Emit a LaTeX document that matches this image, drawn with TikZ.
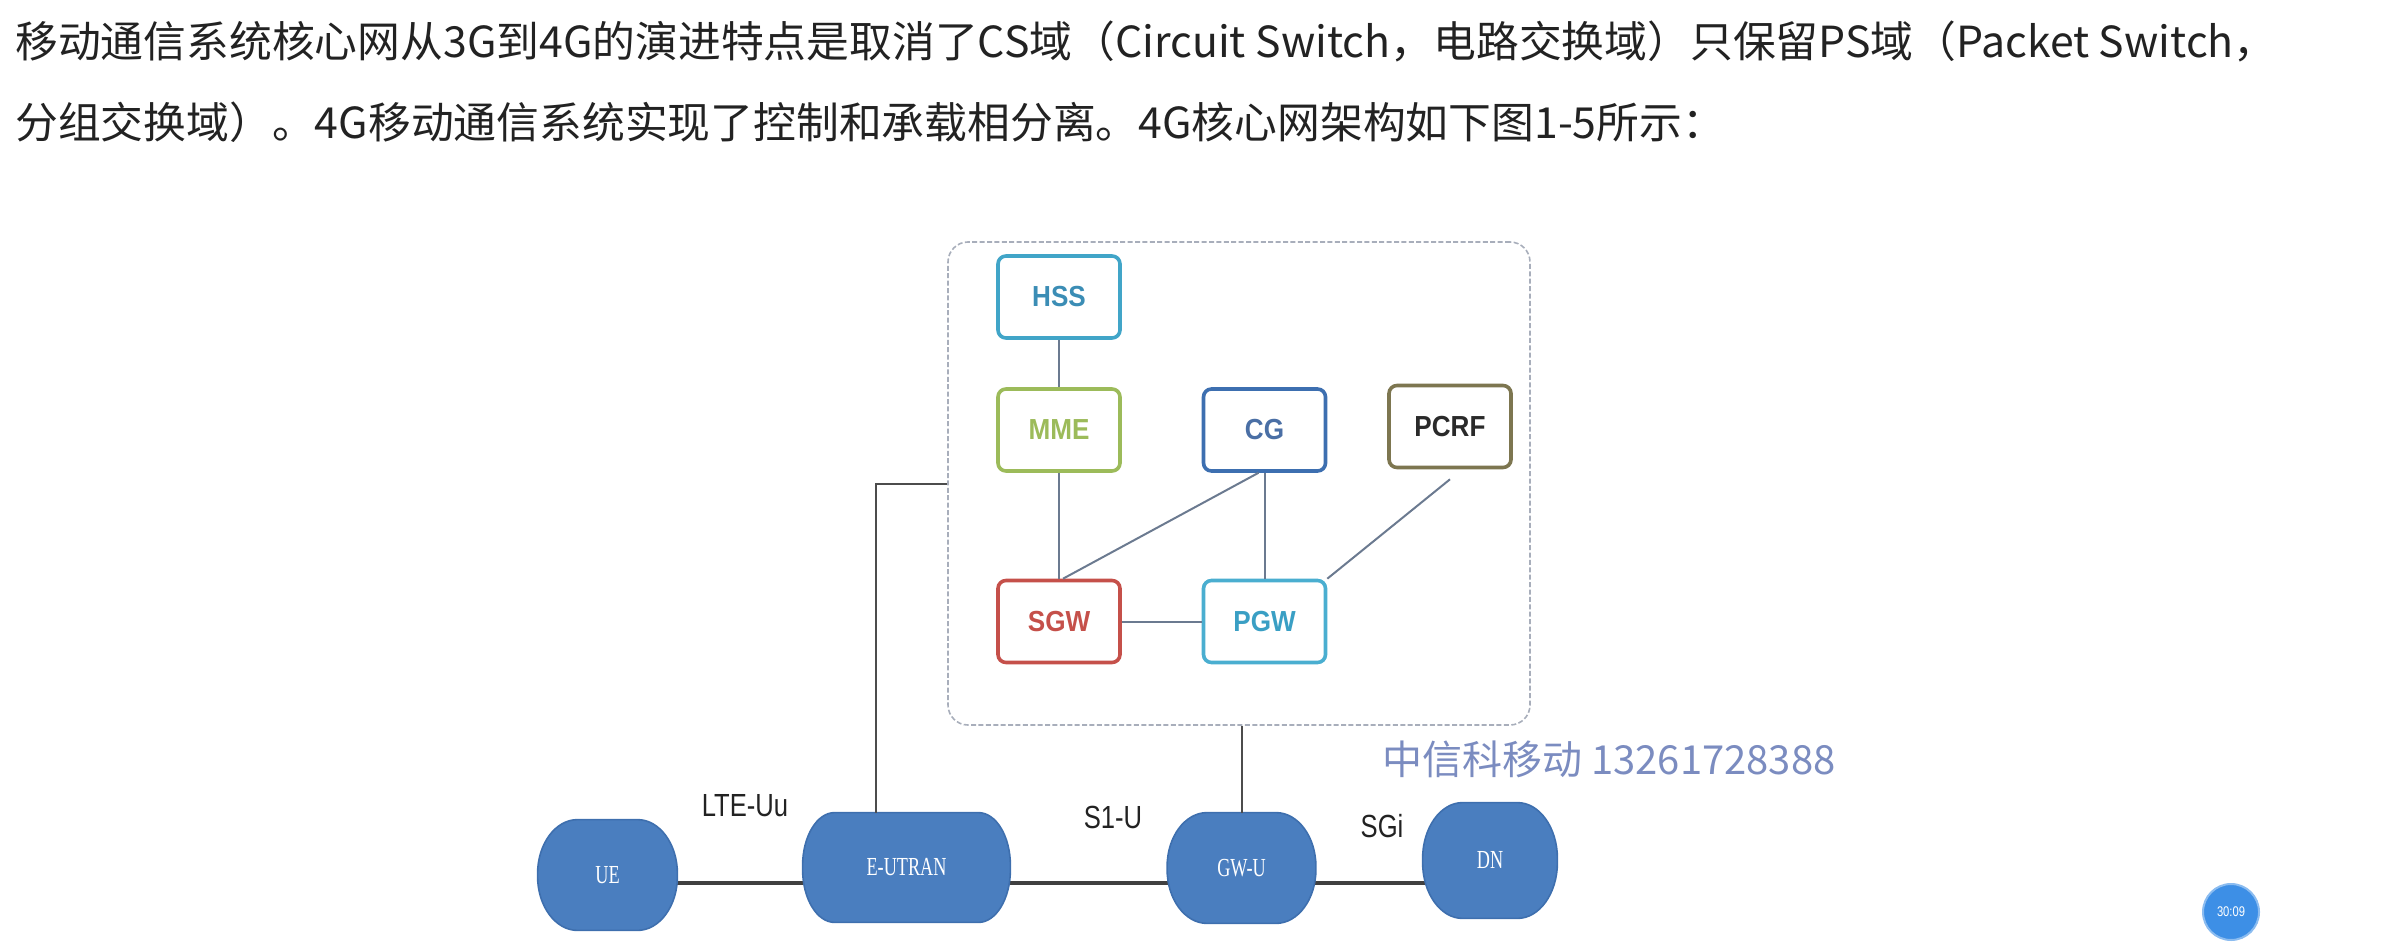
\documentclass[tikz,border=0pt]{standalone}
\usepackage{fontspec}
\usetikzlibrary{backgrounds}
\newfontfamily\cjk{Noto Sans CJK SC}
\newfontfamily\lab[FakeStretch=0.8]{Liberation Sans}
\newfontfamily\boxfont[FakeStretch=0.9]{Liberation Sans}
\newfontfamily\nser[FakeStretch=0.7]{Liberation Serif}
\definecolor{hssc}{HTML}{41A5C8}
\definecolor{hsst}{HTML}{3B8DB5}
\definecolor{mmec}{HTML}{9CBB5A}
\definecolor{cgc}{HTML}{3D6FB0}
\definecolor{cgt}{HTML}{4A6FA5}
\definecolor{pcrfc}{HTML}{7D7650}
\definecolor{pcrft}{HTML}{2A2A2A}
\definecolor{sgwc}{HTML}{C5504A}
\definecolor{pgwc}{HTML}{4AAED0}
\definecolor{pgwt}{HTML}{3A9FC4}
\definecolor{linkc}{HTML}{6B7A90}
\definecolor{bfill}{HTML}{4A7EBF}
\definecolor{bdraw}{HTML}{3E6FAE}
\definecolor{wmark}{HTML}{7B8CC0}
\definecolor{txt}{HTML}{222222}
\definecolor{dashc}{HTML}{A8AEBB}
\definecolor{timerc}{HTML}{3D8FE6}
\tikzset{
  corebox/.style={draw, line width=1.8pt, rounded corners=4pt, fill=white,
    minimum width=61pt, minimum height=41pt, inner sep=0pt,
    font=\boxfont\bfseries\fontsize{14.5}{17}\selectfont},
  container/.style={draw=dashc, line width=0.8pt, dash pattern=on 2.5pt off 1.2pt,
    rounded corners=10pt, inner sep=0pt},
  link/.style={draw=linkc, line width=1pt},
  blink/.style={draw=black!75, line width=2pt},
  bnode/.style={text=white, inner sep=0pt, font=\nser\fontsize{13}{15}\selectfont},
  blobfill/.style={fill=bfill, draw=bdraw, line width=0.8pt},
  iflabel/.style={text=txt, inner sep=0pt, font=\lab\fontsize{16}{19}\selectfont},
  bodytext/.style={text=txt, anchor=west, inner sep=0pt, font=\cjk\fontsize{21.4}{25}\selectfont},
}
% blob outline with elliptical corners: node name, x radius, y radius
\newcommand\blobpath[3]{%
  \path[blobfill] ([xshift=#2]#1.north west) -- ([xshift=-#2]#1.north east)
    arc[start angle=90, end angle=0, x radius=#2, y radius=#3]
    -- ([yshift=#3]#1.south east)
    arc[start angle=0, end angle=-90, x radius=#2, y radius=#3]
    -- ([xshift=#2]#1.south west)
    arc[start angle=270, end angle=180, x radius=#2, y radius=#3]
    -- ([yshift=-#3]#1.north west)
    arc[start angle=180, end angle=90, x radius=#2, y radius=#3] -- cycle;}
\begin{document}
\begin{tikzpicture}[x=0.5pt, y=-0.5pt]
\useasboundingbox (0,0) rectangle (2398,947);

% body text
\node[bodytext] (t1) at (15,41) {移动通信系统核心网从3G到4G的演进特点是取消了CS域（Circuit Switch，电路交换域）只保留PS域（Packet Switch，};
\node[bodytext] (t2) at (15,122) {分组交换域）。4G移动通信系统实现了控制和承载相分离。4G核心网架构如下图1-5所示：};

% core network container
\node[container, minimum width=291pt, minimum height=241.5pt] (core) at (1239,483.5) {};

% core network elements
\node[corebox, draw=hssc, text=hsst] (hss) at (1059,297) {HSS};
\node[corebox, draw=mmec, text=mmec] (mme) at (1059,430) {MME};
\node[corebox, draw=cgc, text=cgt] (cg) at (1264.5,430) {CG};
\node[corebox, draw=pcrfc, text=pcrft] (pcrf) at (1450,426.5) {PCRF};
\node[corebox, draw=sgwc, text=sgwc] (sgw) at (1059,621.5) {SGW};
\node[corebox, draw=pgwc, text=pgwt] (pgw) at (1264.5,621.5) {PGW};

\draw[link] (hss) -- (mme);
\draw[link] (mme) -- (sgw);
\draw[link] ([xshift=-3pt]cg.south) -- ([xshift=2pt]sgw.north);
\draw[link] (cg) -- (pgw);
\draw[link] ([yshift=-5pt]pcrf.south) -- (pgw.north east);
\draw[link] (sgw) -- (pgw);

% bottom user plane nodes
\node[bnode, minimum width=69.5pt, minimum height=55pt] (ue) at (607.5,875) {UE};
\node[bnode, minimum width=103.5pt, minimum height=54.5pt] (eutran) at (906.5,867.5) {E-UTRAN};
\node[bnode, minimum width=74pt, minimum height=55pt] (gwu) at (1241.5,868) {GW-U};
\node[bnode, minimum width=67pt, minimum height=57.5pt] (dn) at (1490,860.5) {DN};

\coordinate (ly) at (0,883);
\begin{scope}[on background layer]
\draw[blink] ([xshift=-4pt]ue.east |- ly) -- ([xshift=4pt]eutran.west |- ly);
\draw[blink] ([xshift=-4pt]eutran.east |- ly) -- ([xshift=4pt]gwu.west |- ly);
\draw[blink] ([xshift=-4pt]gwu.east |- ly) -- ([xshift=4pt]dn.west |- ly);
\blobpath{ue}{20pt}{27pt}
\blobpath{eutran}{16pt}{26.5pt}
\blobpath{gwu}{20pt}{27pt}
\blobpath{dn}{20pt}{28pt}
\end{scope}

% links from core to user plane
\draw[link, draw=black!70] (core.west) -| ([xshift=-15.5pt]eutran.north);
\draw[link, draw=black!70] (gwu.north |- core.south) -- (gwu.north);

% interface labels
\node[iflabel] (lteuu) at (745,806) {LTE-Uu};
\node[iflabel] (s1u) at (1113,817) {S1-U};
\node[iflabel] (sgi) at (1382,826) {SGi};

% watermark
\node[text=wmark, inner sep=0pt, font=\cjk\fontsize{20}{24}\selectfont] (wm) at (1609,759) {中信科移动 13261728388};

% timer badge
\node[circle, fill=timerc, draw=timerc!60, line width=1pt, minimum size=28pt, inner sep=0pt,
  text=white, font=\lab\fontsize{7}{8}\selectfont] (timer) at (2231,912) {30:09};
\end{tikzpicture}
\end{document}
